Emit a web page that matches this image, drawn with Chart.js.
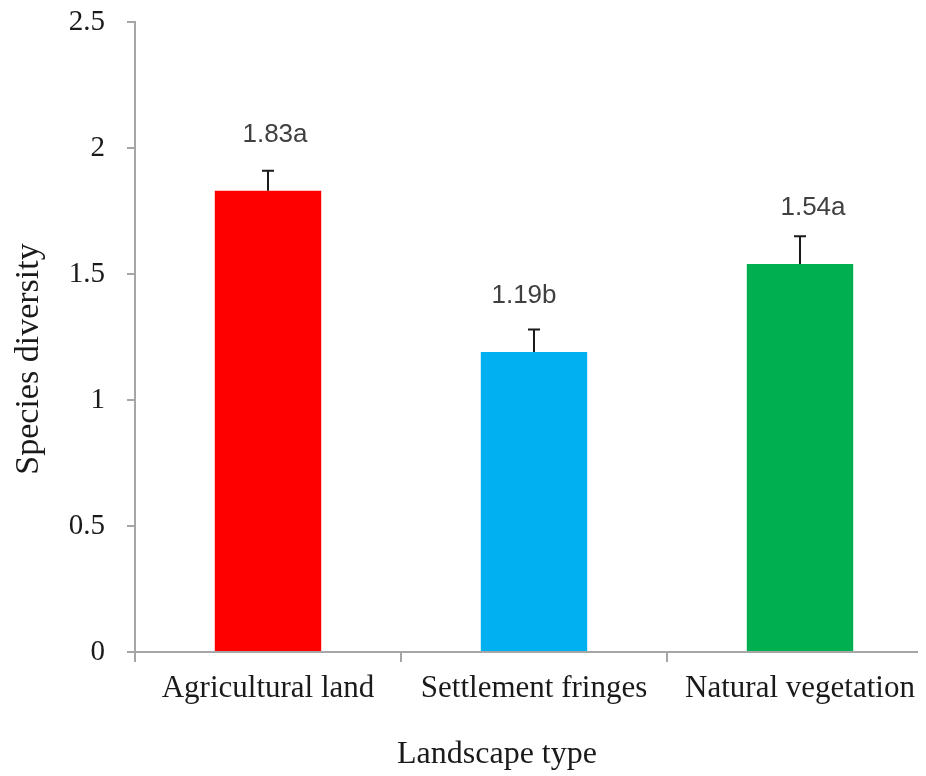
<!DOCTYPE html>
<html>
<head>
<meta charset="utf-8">
<script src="https://cdn.jsdelivr.net/npm/chart.js@4.4.0/dist/chart.umd.min.js"></script>
<style>
  html, body { margin: 0; padding: 0; background: #fff; overflow: hidden; }
  #wrap { width: 918px; height: 776px; overflow: hidden; position: relative; }
  canvas { display: block; }
</style>
</head>
<body>
<div id="wrap"><canvas id="chart" width="934" height="776"></canvas></div>
<script>
// Landscape categories and mean species diversity per landscape
const categories = ['Agricultural land', 'Settlement fringes', 'Natural vegetation'];
const diversity = [1.83, 1.19, 1.54];
// Upper error (standard error) above each mean
const errorUpper = [0.08, 0.09, 0.11];
// Significance group letters printed after each mean
const groupLetters = ['a', 'b', 'a'];
// Y axis tick values
const yTicks = [0, 0.5, 1, 1.5, 2, 2.5];

const barColors = ['#FF0000', '#00B0F0', '#00B050'];
const axisColor = '#a6a6a6';
const serif = "'Liberation Serif', 'Times New Roman', serif";
const sans = "'Liberation Sans', Arial, sans-serif";

// Draws error whiskers, mean labels and both axis titles
const annotate = {
  id: 'annotate',
  afterDatasetsDraw(chart, args, opts) {
    const ctx = chart.ctx;
    const y = chart.scales.y;
    const meta = chart.getDatasetMeta(0);
    ctx.save();
    diversity.forEach((v, i) => {
      const bx = meta.data[i].x;
      const yTop = y.getPixelForValue(v + errorUpper[i]);
      const yBar = y.getPixelForValue(v);
      ctx.strokeStyle = '#1a1a1a';
      ctx.lineWidth = 2;
      ctx.beginPath();
      ctx.moveTo(bx, yBar);
      ctx.lineTo(bx, yTop);
      ctx.moveTo(bx - 6, yTop);
      ctx.lineTo(bx + 6, yTop);
      ctx.stroke();

      ctx.fillStyle = '#404040';
      ctx.font = '26px ' + sans;
      ctx.textAlign = 'center';
      ctx.textBaseline = 'middle';
      ctx.fillText(v.toFixed(2) + groupLetters[i], bx + opts.labelShift[i], yBar - 56);
    });

    ctx.fillStyle = '#1a1a1a';
    ctx.textAlign = 'center';
    ctx.textBaseline = 'middle';
    ctx.font = '32px ' + serif;
    ctx.fillText('Landscape type', 497, 755);
    ctx.translate(29, 359);
    ctx.rotate(-Math.PI / 2);
    ctx.font = '34px ' + serif;
    ctx.fillText('Species diversity', 0, 0);
    ctx.restore();
  }
};

new Chart(document.getElementById('chart'), {
  type: 'bar',
  data: {
    labels: categories,
    datasets: [{
      data: diversity,
      backgroundColor: barColors,
      borderWidth: 0,
      barPercentage: 0.4,
      categoryPercentage: 1.0
    }]
  },
  options: {
    responsive: false,
    animation: false,
    events: [],
    layout: { padding: { top: 22, right: 1, left: 0, bottom: 0 } },
    plugins: {
      legend: { display: false },
      tooltip: { enabled: false },
      annotate: { labelShift: [7, -10, 13] }
    },
    scales: {
      x: {
        grid: {
          offset: true,
          drawOnChartArea: false,
          drawTicks: true,
          tickLength: 10,
          color: axisColor,
          lineWidth: 2
        },
        border: { color: axisColor, width: 2 },
        ticks: {
          color: '#1a1a1a',
          font: { family: serif, size: 31 },
          padding: 8,
          maxRotation: 0,
          autoSkip: false
        },
        afterFit(scale) {
          scale.height = 124;
          scale.paddingLeft = 0;
          scale.paddingRight = 0;
        }
      },
      y: {
        min: 0,
        max: 2.5,
        afterBuildTicks(scale) { scale.ticks = yTicks.map(v => ({ value: v })); },
        grid: {
          drawOnChartArea: false,
          drawTicks: true,
          tickLength: 8,
          color: axisColor,
          lineWidth: 2
        },
        border: { color: axisColor, width: 2 },
        ticks: {
          color: '#1a1a1a',
          font: { family: serif, size: 29 },
          padding: 22,
          callback: v => String(v)
        },
        afterFit(scale) {
          scale.width = 135;
          scale.paddingTop = 0;
          scale.paddingBottom = 0;
        }
      }
    }
  },
  plugins: [annotate]
});
</script>
</body>
</html>
